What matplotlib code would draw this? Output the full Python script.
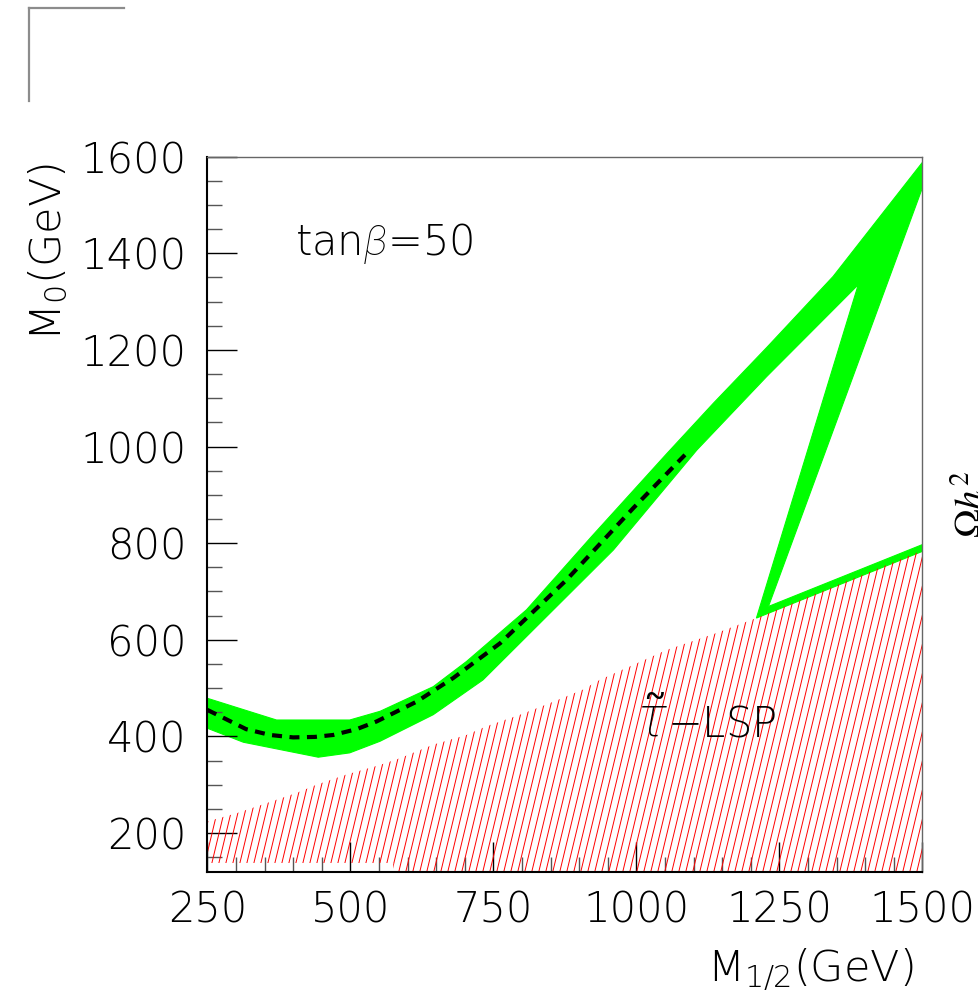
import numpy as np
import matplotlib
matplotlib.use("Agg")
import matplotlib.pyplot as plt
from matplotlib.patches import Polygon
from matplotlib.collections import LineCollection
from matplotlib.lines import Line2D
from matplotlib.ticker import MultipleLocator

plt.rcParams['font.family'] = ['DejaVu Sans']
plt.rcParams['font.weight'] = 'light'
plt.rcParams['mathtext.fontset'] = 'custom'
plt.rcParams['mathtext.rm'] = 'DejaVu Sans:light'
plt.rcParams['mathtext.it'] = 'Roboto:italic:light'

x_ticks = [250, 500, 750, 1000, 1250, 1500]
y_ticks = [200, 400, 600, 800, 1000, 1200, 1400, 1600]

# green band (relic density region), upper and lower edges
band_up_x = [250, 371, 499, 552, 645, 703, 808, 922, 1053, 1135, 1228, 1344, 1500]
band_up_y = [479, 434, 434, 452, 503, 555, 662, 814, 985, 1090, 1205, 1352, 1588]
band_lo_x = [250, 313, 444, 499, 552, 645, 732, 832, 960, 1106, 1228, 1388]
band_lo_y = [417, 388, 357, 366, 390, 445, 517, 635, 786, 993, 1145, 1335]

# descending branch + thin strip along the stau line
branch_right_x = [1500, 1231]
branch_right_y = [1535, 669]
strip_up_x = [1231, 1500]
strip_up_y = [669, 797]
strip_lo_x = [1500, 1210]
strip_lo_y = [783, 645]

# central dashed line
dash_x = [250, 318, 360, 400, 438, 470, 511, 546, 616, 680, 762, 878, 995, 1091]
dash_y = [455, 415, 403, 398, 399, 403, 415, 431, 472, 521, 593, 724, 873, 990]

# stau LSP boundary
stau_x = [250, 301, 354, 406, 441, 493, 552, 587, 645, 703, 738, 797, 849, 907, 936, 1053, 1140, 1210, 1500]
stau_y = [224, 241, 262, 283, 300, 321, 341, 355, 383, 403, 421, 445, 469, 497, 517, 579, 614, 645, 785]
stau_bot_x = [1500, 575, 575, 250]
stau_bot_y = [120, 120, 138, 138]

fig = plt.figure(figsize=(9.79, 10.02), dpi=100)
ax = fig.add_axes([207.3/979, 130.3/1002, 715/979, 715/1002])
ax.set_xlim(250, 1500)
ax.set_ylim(120, 1600)

# hatched stau region
red_pts = list(zip(stau_x + stau_bot_x, stau_y + stau_bot_y))
red_poly = Polygon(red_pts, closed=True, facecolor='none', edgecolor='none')
ax.add_patch(red_poly)
step = 7.0/715
segs = [[(c, 0), (c + 0.24, 1)] for c in np.arange(-0.3, 1.05, step)]
lc = LineCollection(segs, colors='#ff0000', linewidths=0.7, transform=ax.transAxes)
ax.add_collection(lc)
lc.set_clip_path(red_poly)

# green region as one outline
gx = band_up_x + branch_right_x + strip_up_x + strip_lo_x + [1388] + band_lo_x[::-1]
gy = band_up_y + branch_right_y + strip_up_y + strip_lo_y + [1335] + band_lo_y[::-1]
ax.add_patch(Polygon(list(zip(gx, gy)), closed=True, facecolor='#00ff00',
                     edgecolor='#00ff00', lw=0.8))

ax.plot(dash_x, dash_y, color='black', lw=3, dashes=(2.4, 1.8))

ax.text(403, 1421, r'tan$\beta$=50', fontsize=30, va='center', ha='left')
ax.text(1001, 399, r'$\tilde{\tau}$', fontsize=42, va='baseline', ha='left')
ax.text(1053, 399, r'$-$LSP', fontsize=30, va='baseline', ha='left')

# axes styling (ROOT look)
for s in ['left', 'bottom']:
    ax.spines[s].set_linewidth(1.5)
    ax.spines[s].set_color('black')
for s in ['top', 'right']:
    ax.spines[s].set_linewidth(1.0)
    ax.spines[s].set_color('#666666')

ax.set_xticks(x_ticks, labels=[str(v) for v in x_ticks])
ax.set_yticks(y_ticks, labels=[str(v) for v in y_ticks])
ax.xaxis.set_minor_locator(MultipleLocator(50))
ax.yaxis.set_minor_locator(MultipleLocator(50))
ax.tick_params(which='both', direction='in', top=False, right=False, labelsize=30)
ax.tick_params(which='major', length=21.5, width=1.0, color='black')
ax.tick_params(which='minor', length=10.8, width=1.0, color='#555555')
ax.tick_params(axis='y', pad=15)
ax.tick_params(axis='x', pad=13)

fig.text(913/979, 1 - 970/1002, r'M$_{1/2}$(GeV)', fontsize=31, ha='right', va='center')
fig.text(48/979, 1 - 163/1002, r'M$_0$(GeV)', fontsize=31, ha='center', va='top', rotation=90)

# partial label from neighbouring panel
fig.text(953/979, 1 - 538/1002, r'$\Omega h^2$', fontsize=28, fontweight='normal',
         ha='left', va='bottom', rotation=90, math_fontfamily='stix')

# corner mark
fig.add_artist(Line2D([29/979, 124/979], [1 - 8/1002, 1 - 8/1002], color='#8c8c8c', lw=1.6,
                      transform=fig.transFigure))
fig.add_artist(Line2D([29/979, 29/979], [1 - 8/1002, 1 - 101/1002], color='#8c8c8c', lw=1.6,
                      transform=fig.transFigure))

fig.savefig('out.png', dpi=100)
